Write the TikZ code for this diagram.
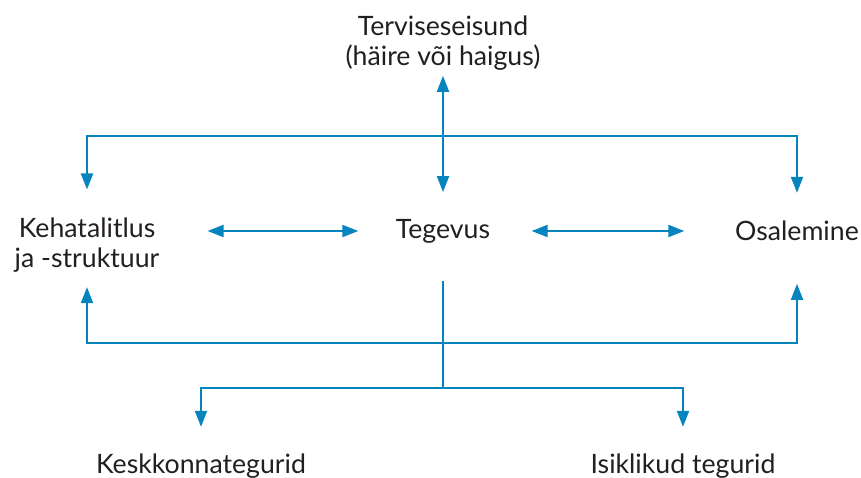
\documentclass[tikz,border=0pt]{standalone}
\usepackage{fontspec}
\setmainfont{Lato}
\usetikzlibrary{arrows.meta,calc,positioning}
\definecolor{IcfBlue}{HTML}{0584BD}
\definecolor{IcfInk}{HTML}{231F20}

\begin{document}
\begin{tikzpicture}[x=0.75pt, y=-0.75pt,
    lbl/.style={font=\fontsize{20}{22.5}\selectfont, text=IcfInk, align=center, inner sep=0pt},
    link/.style={IcfBlue, line width=1.5pt},
    arr/.style={link, -{Triangle[length=12pt, width=9pt]}},
    dbl/.style={link, {Triangle[length=12pt, width=9pt]}-{Triangle[length=12pt, width=9pt]}}]
  \useasboundingbox (0,0) rectangle (861,478);
  % the six labels
  \node[lbl] (tervis) at (443,43) {Terviseseisund\\(häire või haigus)};
  \node[lbl] (keha) at (87,245) {Kehatalitlus\\ja -struktuur};
  \node[lbl] (tegevus) at (443,231) {Tegevus};
  \node[lbl] (osal) at (797,231) {Osalemine};
  \node[lbl] (kesk) at (201,466) {Keskkonnategurid};
  \node[lbl] (isik) at (683,466) {Isiklikud tegurid};
  \coordinate (top) at (443,136);
  \coordinate (mid) at (443,343);
  \coordinate (low) at (443,388);
  % arrows
  \draw[dbl, shorten <=4pt, shorten >=20pt] (tervis.south) -- (tegevus.north);
  \draw[dbl, shorten <=36pt, shorten >=28pt] (keha.east |- tegevus.west) -- (tegevus.west);
  \draw[dbl, shorten <=31pt, shorten >=38pt] (tegevus.east) -- (osal.west);
  \draw[arr, shorten >=21pt] (top) -| (keha.north);
  \draw[arr, shorten >=21pt] (top) -| (osal.north);
  \draw[link, shorten <=28pt] (tegevus.south) -- (low);
  \draw[arr, shorten >=11pt] (mid) -| (keha.south);
  \draw[arr, shorten >=32pt] (mid) -| (osal.south);
  \draw[arr, shorten >=20pt] (low) -| (kesk.north);
  \draw[arr, shorten >=20pt] (low) -| (isik.north);
\end{tikzpicture}
\end{document}
